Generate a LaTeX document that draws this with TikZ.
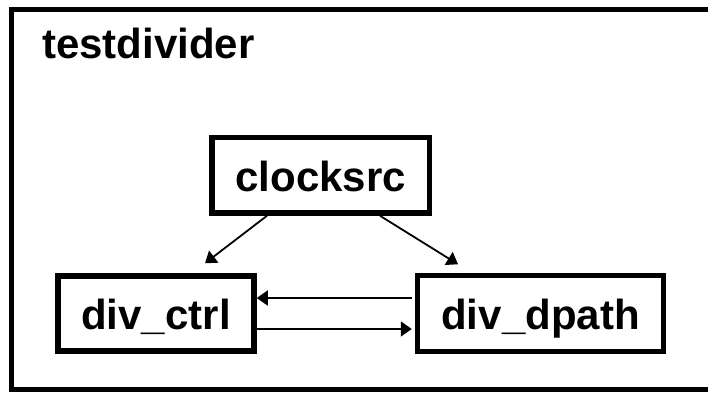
\documentclass[tikz,border=0pt]{standalone}
\usepackage{fontspec}
\setmainfont{Liberation Sans}
\usetikzlibrary{arrows.meta}
\begin{document}
\begin{tikzpicture}[x=1pt,y=-1pt,
  blk/.style={draw=black,line width=5.5pt,fill=white,inner sep=0pt,
    text height=32pt,text depth=0pt,font=\fontsize{42}{50}\selectfont\bfseries},
  conn/.style={draw=black,line width=1.8pt,-{Triangle[length=11pt,width=15pt]}}]
\useasboundingbox (0,0) rectangle (708,392);
\clip (0,0) rectangle (708,392);
\draw[line width=5pt] (11.5,9.5) rectangle (714,389);
\node[anchor=base west,inner sep=0pt,font=\fontsize{42}{50}\selectfont\bfseries] (title) at (42,58) {testdivider};
\node[blk,minimum width=217.5pt,minimum height=75.5pt] (clk) at (320.75,175.25) {clocksrc};
\node[blk,minimum width=196pt,minimum height=75pt] (ctrl) at (156,313.5) {div\_ctrl};
\node[blk,minimum width=246pt,minimum height=76pt] (dp) at (540.5,313.5) {div\_dpath};
\draw[conn] ([xshift=-53.75pt]clk.south) -- ([xshift=49pt,yshift=10pt]ctrl.north);
\draw[conn] ([xshift=59.25pt]clk.south) -- ([xshift=-82.5pt,yshift=8.5pt]dp.north);
\draw[conn] ([xshift=-3pt,yshift=15.5pt]dp.west) -- ([yshift=15.5pt]ctrl.east);
\draw[conn] ([xshift=-3pt,yshift=-15.5pt]ctrl.east) -- ([xshift=-3pt,yshift=-15.5pt]dp.west);
\end{tikzpicture}
\end{document}
